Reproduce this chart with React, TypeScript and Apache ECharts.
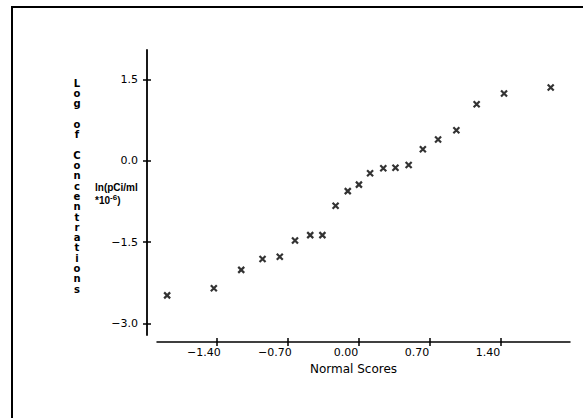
import React, { useEffect, useRef } from "react";
import * as echarts from "echarts";

const normalScores = [
  -1.89, -1.43, -1.16, -0.95, -0.78, -0.63, -0.48, -0.36, -0.23, -0.11, 0.0,
  0.11, 0.24, 0.36, 0.49, 0.63, 0.78, 0.96, 1.16, 1.43, 1.89,
];
const logConcentrations = [
  -2.48, -2.35, -2.01, -1.81, -1.77, -1.47, -1.37, -1.37, -0.83, -0.56, -0.44,
  -0.23, -0.14, -0.13, -0.08, 0.21, 0.39, 0.56, 1.04, 1.24, 1.35,
];
const xTickValues = [-1.4, -0.7, 0, 0.7, 1.4];
const xTickLabels = ["\u22121.40", "\u22120.70", "0.00", "0.70", "1.40"];
const yTickValues = [-3.0, -1.5, 0.0, 1.5];
const yTickLabels = ["\u22123.0", "\u22121.5", "0.0", "1.5"];
const xTitle = "Normal Scores";
const yTitle = "Log of Concentrations";
const unitLine1 = "ln(pCi/ml";
const unitLine2 = "*10";
const unitSup = "-6";
const unitEnd = ")";

const X_MIN = -1.99;
const X_MAX = 2.08;
const Y_MIN = -3.21;
const Y_MAX = 2.04;

const FONT = "DejaVu Sans";

export default function App() {
  const ref = useRef<HTMLDivElement>(null);
  useEffect(() => {
    if (!ref.current) return;
    const chart = echarts.init(ref.current, null, { renderer: "svg" });
    const fmt = (vals: number[], labels: string[]) => (v: number) => {
      const i = vals.findIndex((t) => Math.abs(t - v) < 1e-6);
      return i >= 0 ? labels[i] : "";
    };
    const baseX = {
      type: "value" as const,
      min: X_MIN,
      max: X_MAX,
      position: "bottom" as const,
      offset: 7,
      splitLine: { show: false },
    };
    const baseY = {
      type: "value" as const,
      min: Y_MIN,
      max: Y_MAX,
      position: "left" as const,
      offset: 10,
      splitLine: { show: false },
    };
    chart.setOption({
      animation: false,
      backgroundColor: "#ffffff",
      grid: { left: 157, right: 13, top: 50, bottom: 83, containLabel: false },
      xAxis: [
        {
          ...baseX,
          axisLine: { show: true, onZero: false, lineStyle: { color: "#000", width: 1.5 } },
          axisTick: {
            show: true,
            inside: false,
            length: 4,
            customValues: xTickValues,
            lineStyle: { color: "#000", width: 1.5 },
          },
          axisLabel: {
            show: true,
            customValues: xTickValues,
            formatter: fmt(xTickValues, xTickLabels),
            margin: 5,
            color: "#000",
            fontFamily: FONT,
            fontSize: 11,
            padding: [0, 26, 0, 0],
          },
          name: xTitle,
          nameLocation: "middle",
          nameGap: 21,
          nameTextStyle: {
            color: "#000",
            fontFamily: FONT,
            fontSize: 12,
            padding: [0, 20, 0, 0],
          },
        },
        {
          ...baseX,
          axisLine: { show: false, onZero: false },
          axisTick: {
            show: true,
            inside: true,
            length: 4,
            customValues: xTickValues,
            lineStyle: { color: "#000", width: 1.5 },
          },
          axisLabel: { show: false },
        },
      ],
      yAxis: [
        {
          ...baseY,
          axisLine: { show: true, onZero: false, lineStyle: { color: "#000", width: 1.8 } },
          axisTick: {
            show: true,
            inside: false,
            length: 4,
            customValues: yTickValues,
            lineStyle: { color: "#000", width: 1.5 },
          },
          axisLabel: {
            show: true,
            customValues: yTickValues,
            formatter: fmt(yTickValues, yTickLabels),
            margin: 9,
            color: "#000",
            fontFamily: FONT,
            fontSize: 11,
          },
        },
        {
          ...baseY,
          axisLine: { show: false, onZero: false },
          axisTick: {
            show: true,
            inside: true,
            length: 4,
            customValues: yTickValues,
            lineStyle: { color: "#000", width: 1.5 },
          },
          axisLabel: { show: false },
        },
      ],
      series: [
        {
          type: "scatter",
          xAxisIndex: 0,
          yAxisIndex: 0,
          symbol: "path://M0,0L10,10M10,0L0,10",
          symbolSize: 6,
          itemStyle: { color: "transparent", borderColor: "#000", borderWidth: 2.2 },
          data: normalScores.map((x, i) => [x, logConcentrations[i]]),
        },
      ],
      graphic: [
        {
          type: "polyline",
          shape: { points: [[12, 418], [12, 7], [583, 7]] },
          style: { stroke: "#000", lineWidth: 2, fill: "none" },
          silent: true,
        },
        {
          type: "text",
          x: 77,
          y: 78,
          style: {
            text: yTitle.split("").join("\n"),
            fontFamily: FONT,
            fontWeight: "bold",
            fontSize: 10,
            lineHeight: 10.3,
            fill: "#000",
            align: "center",
          },
        },
        {
          type: "text",
          x: 95,
          y: 181,
          style: {
            text: unitLine1 + "\n" + unitLine2 + "{sup|" + unitSup + "}" + unitEnd,
            fontFamily: "Liberation Sans",
            fontSize: 10,
            fontWeight: "bold",
            lineHeight: 13,
            fill: "#000",
            rich: {
              sup: {
                fontFamily: "Liberation Sans",
                fontSize: 8,
                fontWeight: "bold",
                padding: [0, 0, 6, 0],
                fill: "#000",
              },
            },
          },
        },
      ],
    });
    return () => chart.dispose();
  }, []);
  return (
    <div
      ref={ref}
      style={{ position: "absolute", left: 0, top: 0, width: 583, height: 418 }}
    />
  );
}
